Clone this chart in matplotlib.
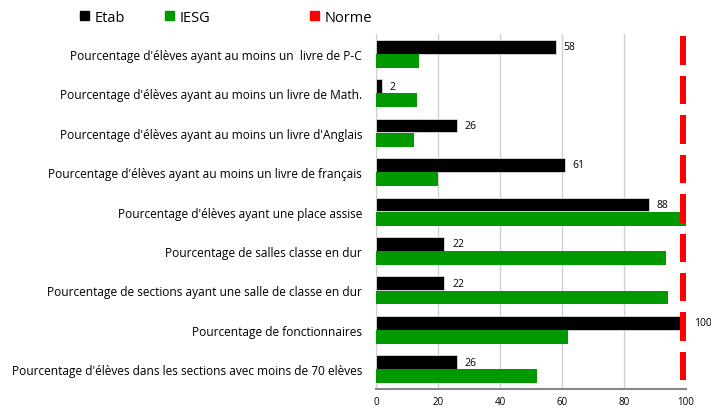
import matplotlib.pyplot as plt
from matplotlib.patches import Patch

plt.rcParams['font.family'] = ['Open Sans', 'DejaVu Sans']

categories = [
    "Pourcentage d'élèves ayant au moins un  livre de P-C",
    "Pourcentage d'élèves ayant au moins un livre de Math.",
    "Pourcentage d'élèves ayant au moins un livre d'Anglais",
    "Pourcentage d'élèves ayant au moins un livre de français",
    "Pourcentage d'élèves ayant une place assise",
    "Pourcentage de salles classe en dur",
    "Pourcentage de sections ayant une salle de classe en dur",
    "Pourcentage de fonctionnaires",
    "Pourcentage d'élèves dans les sections avec moins de 70 elèves",
]
etab = [58, 2, 26, 61, 88, 22, 22, 100, 26]
iesg = [14, 13.3, 12.2, 20, 100, 93.5, 94.1, 62, 51.9]
norme = [100, 100, 100, 100, 100, 100, 100, 100, 100]

fig = plt.figure(figsize=(7.11, 4.10), dpi=100)
ax = fig.add_axes([0.5288, 0.0488, 0.4361, 0.8658])

y = list(range(len(categories)))
h = 0.35
ax.barh([i - 0.18 for i in y], etab, height=h, color='black', edgecolor='#dddddd', linewidth=0.6, zorder=3)
ax.barh([i + 0.18 for i in y], iesg, height=h, color='#009900', edgecolor='none', zorder=3)
ax.barh([i - 0.08 for i in y], [2] * len(norme), left=[n - 2 for n in norme], height=0.72,
        color='#ff0000', edgecolor='none', zorder=4)

for i, v in enumerate(etab):
    ax.text(v + 2.5, i - 0.18, str(v), va='center', ha='left', fontsize=7.5, clip_on=False)

ax.set_xlim(0, 100)
ax.set_ylim(8.5, -0.5)
ax.set_xticks([0, 20, 40, 60, 80, 100])
ax.tick_params(axis='x', length=0, labelsize=7, pad=5)
ax.set_yticks(y)
ax.set_yticklabels(categories, fontsize=8.6)
ax.tick_params(axis='y', length=0, pad=10)
ax.grid(axis='x', color='#d0d0d0', linewidth=1, zorder=0)
for s in ['top', 'right']:
    ax.spines[s].set_visible(False)
ax.spines['left'].set_color('#d0d0d0')
ax.spines['bottom'].set_color('#888888')
ax.spines['bottom'].set_linewidth(1.5)

leg_kw = dict(frameon=False, fontsize=10.5, handlelength=0.6, handleheight=0.6, handletextpad=0.4)
fig.legend(handles=[Patch(color='black', label='Etab')], loc='center left', bbox_to_anchor=(0.094, 0.955), **leg_kw)
fig.legend(handles=[Patch(color='#009900', label='IESG')], loc='center left', bbox_to_anchor=(0.214, 0.955), **leg_kw)
fig.legend(handles=[Patch(color='#ff0000', label='Norme')], loc='center left', bbox_to_anchor=(0.418, 0.955), **leg_kw)

fig.savefig('out.png', dpi=100)
